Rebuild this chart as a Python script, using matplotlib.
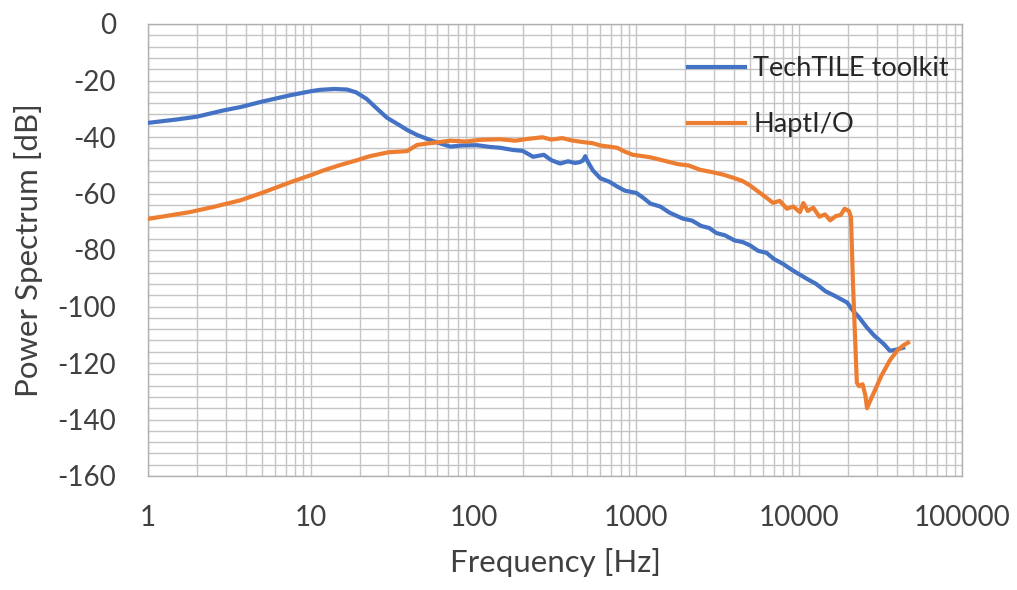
"""
Power spectrum comparison: TechTILE toolkit vs HaptI/O (log frequency axis).
"""
import numpy as np
import matplotlib
matplotlib.use("Agg")
import matplotlib.pyplot as plt
from matplotlib.ticker import FixedLocator, LogLocator, MultipleLocator, NullFormatter

plt.rcParams["font.family"] = ["Lato", "DejaVu Sans"]
plt.rcParams["axes.unicode_minus"] = False

# TechTILE toolkit (blue)
techtile_f = [1, 1.5, 2, 2.9, 3.7, 5, 7.5, 10, 11.4, 14, 16.7, 19, 22, 25, 29.4, 35, 39,
              45, 56, 65, 72, 85, 105, 125, 145, 175, 200, 232, 270, 300, 340, 380, 420,
              450, 470, 485, 500, 540, 600, 680, 760, 850, 1000, 1100, 1220, 1400, 1600,
              1930, 2200, 2500, 2800, 3100, 3500, 4000, 4500, 5000, 5600, 6300, 7000,
              7900, 9000, 10000, 11300, 12700, 14500, 16500, 19700, 21400, 23300, 26100,
              29000, 33000, 36100, 40000, 43500]
techtile_db = [-35.0, -33.8, -32.8, -30.6, -29.4, -27.5, -25.2, -23.8, -23.3, -23.0, -23.2,
               -24.2, -26.5, -29.5, -33.2, -35.8, -37.5, -39.3, -41.4, -42.6, -43.4, -43.0,
               -42.9, -43.5, -43.8, -44.6, -44.9, -47.0, -46.3, -48.2, -49.4, -48.6, -49.2,
               -48.9, -48.3, -46.8, -48.5, -51.8, -54.6, -55.8, -57.5, -59.0, -59.8, -61.5,
               -63.6, -64.6, -66.8, -68.9, -69.6, -71.5, -72.2, -74.0, -74.8, -76.6, -77.2,
               -78.4, -80.3, -81.0, -83.2, -84.8, -87.0, -88.6, -90.4, -92.0, -94.6, -96.2,
               -98.6, -101.5, -103.8, -107.5, -110.4, -113.2, -115.7, -115.2, -114.6]

# HaptI/O (orange)
haptio_f = [1, 1.8, 2.5, 3.7, 5, 7.5, 10, 12, 15, 19, 23, 30, 39, 45, 52, 60, 72, 90, 110,
            145, 180, 220, 265, 300, 350, 400, 470, 540, 600, 760, 850, 950, 1100, 1220,
            1530, 1800, 2100, 2460, 2900, 3400, 3920, 4500, 5000, 5500, 6200, 6900, 7600,
            8400, 9200, 10100, 10600, 11300, 12200, 13300, 14400, 15500, 16800, 18000,
            19000, 20200, 20800, 21400, 22000, 22600, 23300, 24500, 25500, 26100, 27000,
            29000, 32000, 36100, 40000, 43500, 46600]
haptio_db = [-69.0, -66.6, -64.8, -62.4, -59.8, -56.0, -53.5, -51.8, -50.0, -48.3, -46.8,
             -45.4, -45.0, -42.8, -42.3, -41.9, -41.3, -41.6, -41.0, -40.8, -41.3, -40.6,
             -40.1, -40.9, -40.4, -41.2, -41.8, -42.2, -43.0, -43.8, -45.2, -46.3, -46.8,
             -47.2, -48.6, -49.6, -50.1, -51.6, -52.4, -53.3, -54.4, -55.6, -57.2, -59.0,
             -61.2, -63.3, -62.6, -65.4, -64.6, -66.6, -63.4, -66.2, -65.0, -68.2, -67.4,
             -69.5, -68.0, -67.6, -65.4, -66.2, -68.4, -92.0, -110.0, -127.0, -128.2,
             -127.5, -131.5, -136.0, -134.0, -130.0, -124.5, -119.0, -115.6, -113.8, -112.8]

x_ticks = [1, 10, 100, 1000, 10000, 100000]
x_labels = ["1", "10", "100", "1000", "10000", "100000"]
y_ticks = list(range(-160, 1, 20))

BLUE = "#4472C4"
ORANGE = "#ED7D31"
GRID = "#c4c4c4"
TXT = "#404040"

fig = plt.figure(figsize=(10.17, 5.90), dpi=100)
ax = fig.add_axes([148 / 1017, 1 - 476 / 590, (962 - 148) / 1017, (476 - 24) / 590])

ax.plot(techtile_f, techtile_db, color=BLUE, lw=3.0, label="TechTILE toolkit", zorder=3)
ax.plot(haptio_f, haptio_db, color=ORANGE, lw=3.0, label="HaptI/O", zorder=3)

ax.set_xscale("log")
ax.set_xlim(1, 100000)
ax.set_ylim(-160, 0)

ax.xaxis.set_major_locator(FixedLocator(x_ticks))
ax.set_xticklabels(x_labels)
ax.xaxis.set_minor_locator(LogLocator(base=10, subs=np.arange(2, 10)))
ax.xaxis.set_minor_formatter(NullFormatter())
ax.yaxis.set_major_locator(FixedLocator(y_ticks))
ax.set_yticklabels([str(v) for v in y_ticks])
ax.yaxis.set_minor_locator(MultipleLocator(4))

ax.grid(which="both", color=GRID, lw=1.0, zorder=0)
ax.set_axisbelow(True)
ax.tick_params(which="both", length=0)
ax.tick_params(axis="y", labelsize=20, pad=23, colors=TXT)
ax.tick_params(axis="x", labelsize=20, pad=21, colors=TXT)
for sp in ax.spines.values():
    sp.set_color("#b0b0b0")
    sp.set_linewidth(1.0)

ax.set_xlabel("Frequency [Hz]", fontsize=22.5, color=TXT, labelpad=12)
ax.set_ylabel("Power Spectrum [dB]", fontsize=22.5, color=TXT, labelpad=10)

leg = ax.legend(loc="upper left", bbox_to_anchor=((688 - 148) / 814, 1 - (56 - 24) / 452),
                frameon=False, fontsize=19.5, handlelength=2.1, handletextpad=0.3,
                labelspacing=1.15, borderaxespad=0, borderpad=0)
for t in leg.get_texts():
    t.set_color("#262626")

fig.savefig("out.png", dpi=100)
